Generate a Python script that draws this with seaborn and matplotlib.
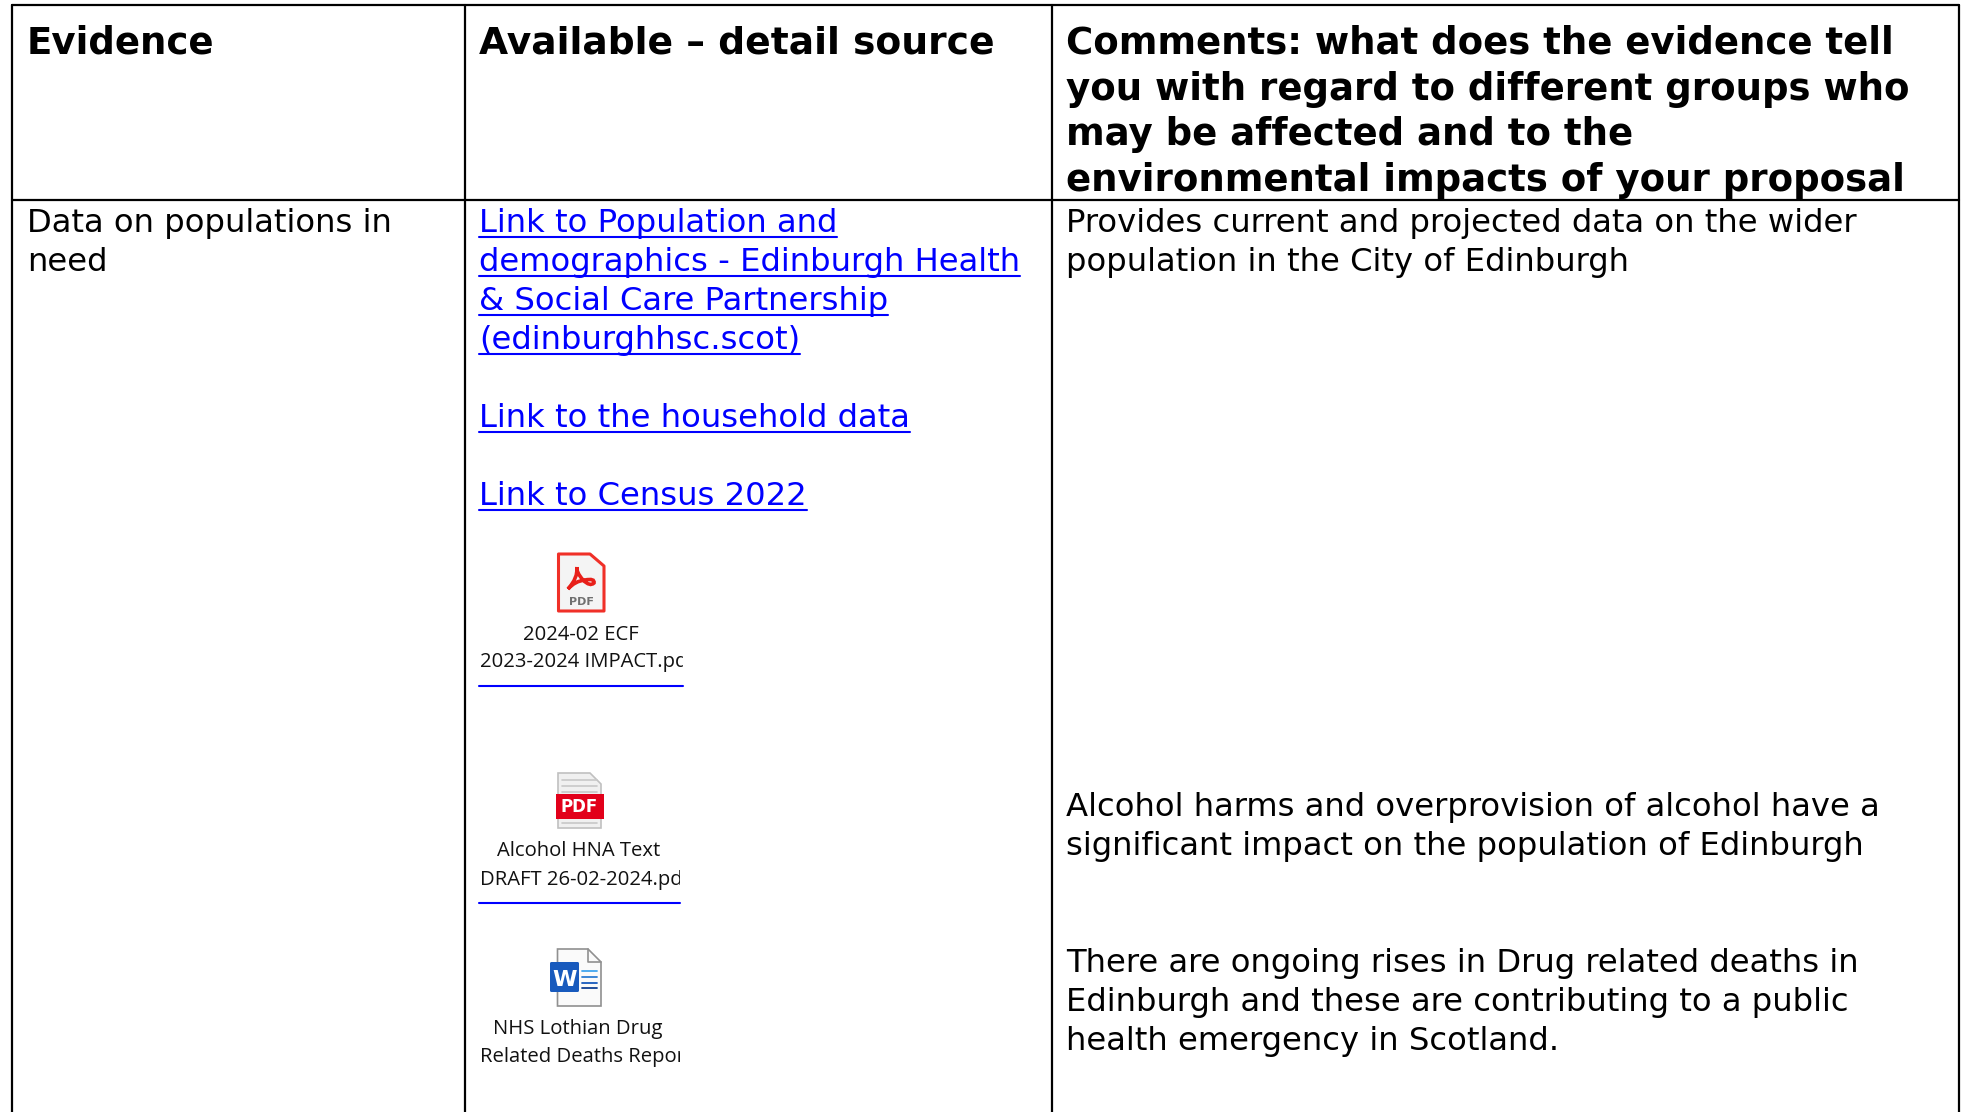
import pandas as pd
import matplotlib.pyplot as plt
import seaborn as sns
from matplotlib.patches import FancyBboxPatch, Polygon, Rectangle, PathPatch
from matplotlib.path import Path

# table text, one list per block
header_evidence = ["Evidence"]
header_source = ["Available – detail source"]
header_comments = ["Comments: what does the evidence tell",
                   "you with regard to different groups who",
                   "may be affected and to the",
                   "environmental impacts of your proposal"]
evidence_lines = ["Data on populations in", "need"]
link_lines = ["Link to Population and",
              "demographics - Edinburgh Health",
              "& Social Care Partnership",
              "(edinburghhsc.scot)",
              "",
              "Link to the household data",
              "",
              "Link to Census 2022"]
comment_block1 = ["Provides current and projected data on the wider",
                  "population in the City of Edinburgh"]
comment_block2 = ["Alcohol harms and overprovision of alcohol have a",
                  "significant impact on the population of Edinburgh"]
comment_block3 = ["There are ongoing rises in Drug related deaths in",
                  "Edinburgh and these are contributing to a public",
                  "health emergency in Scotland."]
caption_pdf1 = ["2024-02 ECF", "2023-2024 IMPACT.pdf"]
caption_pdf2 = ["Alcohol HNA Text", "DRAFT 26-02-2024.pdf"]
caption_doc = ["NHS Lothian Drug", "Related Deaths Report.docx"]

sns.set_theme(style="white")
plt.rcParams['font.family'] = ['DejaVu Sans']

W, H = 1966, 1112
fig = plt.figure(figsize=(W / 100, H / 100), dpi=100)
ax = fig.add_axes([0, 0, 1, 1])

BODY = 23.2
HEAD = 26.7
CAP = 14.6
LINK = "#0000FF"


def block(lines, x, y, step=39, size=BODY, **kw):
    out = []
    for i, s in enumerate(lines):
        out.append(ax.text(x, y + i * step, s, fontsize=size, va='baseline', ha='left',
                           color=kw.get('color', 'black'), fontweight=kw.get('weight', 'normal')))
    return out


block(header_evidence, 27, 54, size=HEAD, weight='bold')
block(header_source, 479, 54, size=27.1, weight='bold')
block(header_comments, 1066, 54, step=45.6, size=HEAD, weight='bold')
block(evidence_lines, 27, 232)
links = block(link_lines, 479, 232, color=LINK)
block(comment_block1, 1066, 232)
block(comment_block2, 1066, 816)
block(comment_block3, 1066, 972)


def caption(lines, cx, y1, y2, clip_x):
    ax.text(cx, y1, lines[0], fontsize=CAP, family='Open Sans', ha='center', va='baseline', color='#111111')
    t = ax.text(480, y2, lines[1], fontsize=CAP, family='Open Sans', ha='left', va='baseline', color='#111111')
    t.set_clip_path(Rectangle((470, y2 - 40), clip_x - 470, 60, transform=ax.transData))
    t.set_clip_on(True)


caption(caption_pdf1, 581, 640, 667, 683)
caption(caption_pdf2, 579, 856, 885, 680)
caption(caption_doc, 578, 1034, 1062, 680)

# rules of the table
rule_rows = []
for i, (x0, y0, x1, y1) in enumerate([(12, 5, 1959, 5), (12, 200, 1959, 200), (12, 5, 12, H),
                                      (465, 5, 465, H), (1052, 5, 1052, H), (1959, 5, 1959, H)]):
    rule_rows += [{'rule': i, 'x': x0, 'y': y0}, {'rule': i, 'x': x1, 'y': y1}]
rules = pd.DataFrame(rule_rows)
sns.lineplot(data=rules, x='x', y='y', units='rule', estimator=None, sort=False,
             color='black', lw=1.6, ax=ax, legend=False)

# underlines under the links and the embedded files
ax.set_xlim(0, W)
ax.set_ylim(H, 0)
fig.canvas.draw()
rend = fig.canvas.get_renderer()
inv = ax.transData.inverted()
under_rows = []
k = 0
for t in links:
    if not t.get_text():
        continue
    bb = t.get_window_extent(rend)
    xa = inv.transform((bb.x0, bb.y0))[0]
    xb = inv.transform((bb.x1, bb.y0))[0]
    yy = t.get_position()[1] + 5
    under_rows += [{'u': k, 'x': xa, 'y': yy}, {'u': k, 'x': xb, 'y': yy}]
    k += 1
for xa, xb, yy in [(479, 683, 686), (479, 680, 903)]:
    under_rows += [{'u': k, 'x': xa, 'y': yy}, {'u': k, 'x': xb, 'y': yy}]
    k += 1
unders = pd.DataFrame(under_rows)
sns.lineplot(data=unders, x='x', y='y', units='u', estimator=None, sort=False,
             color=LINK, lw=1.5, ax=ax, legend=False)

# red acrobat icon
ax.add_patch(Polygon([(558.5, 554), (590, 554), (604, 566), (604, 611), (558.5, 611)], closed=True,
                     fc='#F4F4F4', ec='#F03028', lw=2.2, joinstyle='round'))
acro = Path([(577, 567), (578, 578), (568, 589),
             (575, 581), (585, 580), (595, 578), (594, 583), (590, 587), (583, 580), (576, 572), (577, 567)],
            [Path.MOVETO, Path.CURVE3, Path.CURVE3,
             Path.CURVE3, Path.CURVE3, Path.CURVE3, Path.CURVE3, Path.CURVE3, Path.CURVE3, Path.CURVE3, Path.CURVE3])
ax.add_patch(PathPatch(acro, fc='none', ec='#E8201A', lw=2.6))
ax.text(581, 605, "PDF", fontsize=8, fontweight='bold', color='#707070', ha='center', va='baseline')

# grey page with red band
ax.add_patch(Polygon([(558, 773), (590, 773), (601, 784), (601, 828), (558, 828)], closed=True,
                     fc='#F0F0F0', ec='#C0C0C0', lw=1.2))
for yy in [780, 786, 792, 823]:
    ax.plot([562, 597], [yy, yy], color='#C8C8C8', lw=1.2)
ax.add_patch(Rectangle((555.5, 794), 48, 25, fc='#E2001A', ec='none'))
ax.text(579.5, 812, "PDF", fontsize=12, fontweight='bold', color='white', ha='center', va='baseline')

# word icon
ax.add_patch(Polygon([(557.5, 949), (588, 949), (601, 962), (601, 1006), (557.5, 1006)], closed=True,
                     fc='#FAFAFA', ec='#909090', lw=1.2))
ax.plot([588, 588, 601], [949, 962, 962], color='#909090', lw=1.2)
for yy, c in [(971, '#41A5EE'), (977, '#2B7CD3'), (983, '#185ABD'), (988, '#103F91')]:
    ax.plot([582, 597], [yy, yy], color=c, lw=1.3)
ax.add_patch(FancyBboxPatch((550, 962), 29, 30, boxstyle='round,pad=0,rounding_size=1.5', fc='#185ABD', ec='none'))
ax.text(564.5, 985.5, "W", fontsize=16, fontweight='bold', color='white', ha='center', va='baseline')

ax.set_xlim(0, W)
ax.set_ylim(H, 0)
ax.axis('off')
fig.savefig('out.png', dpi=100, facecolor='white')
